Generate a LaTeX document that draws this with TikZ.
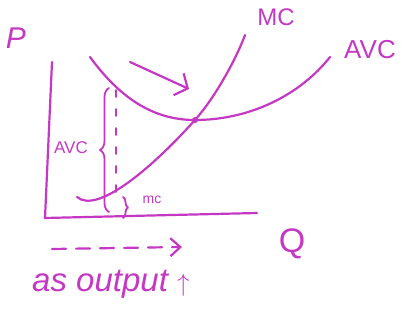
\documentclass[tikz,border=0pt]{standalone}
\usepackage{fontspec}
\setmainfont{Liberation Sans}
\usetikzlibrary{decorations.pathreplacing,arrows.meta}
\definecolor{ink}{RGB}{196,56,196}
\begin{document}
\begin{tikzpicture}[x=1pt,y=-1pt,
  pen/.style={draw=ink, line width=2.2pt, line cap=round, line join=round},
  lbl/.style={text=ink, inner sep=0pt},
  bracepen/.style={pen, line width=1.8pt, decorate, decoration={brace, amplitude=#1}}]
\useasboundingbox (0,0) rectangle (403,320);
% axes
\coordinate (ytop) at (52,62);
\coordinate (origin) at (45,218);
\coordinate (xend) at (257,213);
\draw[pen] (ytop) -- (origin) -- (xend);
% curve points
\coordinate (avcS) at (90,57);
\coordinate (avcMin) at (195,120);
\coordinate (avcE) at (330,57);
\coordinate (mcS) at (77,197);
\coordinate (mcE) at (245,35);
% AVC curve
\draw[pen] (avcS) .. controls (125,105) and (160,120) .. (avcMin)
  .. controls (250,120) and (300,95) .. (avcE);
% MC curve
\draw[pen] (mcS) .. controls (97,214) and (150,170) .. (avcMin)
  .. controls (213,100) and (235,62) .. (mcE);
\fill[ink] (avcMin) circle (3pt);
% labels
\node[lbl, font=\fontsize{30}{32}\selectfont\itshape] (P) at (16,38) {P};
\node[lbl, font=\fontsize{24}{26}\selectfont] (MC) at (276,17) {MC};
\node[lbl, font=\fontsize{26}{28}\selectfont] (AVCr) at (370,50) {AVC};
\node[lbl, font=\fontsize{34}{36}\selectfont] (Q) at (292,244) {Q};
% top arrow
\coordinate (arS) at (130,62);
\coordinate (arE) at (189,89);
\draw[pen, -{Straight Barb[length=10pt,width=24pt,line width=2.2pt]}] (arS) -- (arE);
% AVC brace and dashed line
\coordinate (bAb) at (109,212);
\coordinate (bAt) at (109,88);
\draw[bracepen=9pt] (bAb) -- (bAt);
\node[lbl, font=\fontsize{17}{19}\selectfont] (AVCl) at (71,148) {AVC};
\coordinate (dT) at (116,90);
\coordinate (dB) at (116,197);
\draw[pen, line width=1.6pt, dash pattern=on 7pt off 12pt] (dT) -- (dB);
% mc brace
\coordinate (bmT) at (123,197);
\coordinate (bmB) at (123,218);
\draw[bracepen=5pt] (bmT) -- (bmB);
\node[lbl, font=\fontsize{14}{16}\selectfont] (mc) at (152,200) {mc};
% dashed arrow
\coordinate (daS) at (52,249);
\coordinate (daE) at (182,247);
\draw[pen, dash pattern=on 14pt off 10pt, -{Straight Barb[length=10pt,width=18pt,line width=2.2pt]}] (daS) -- (daE);
% caption
\node[lbl, font=\fontsize{33}{35}\selectfont\itshape, anchor=west] (cap) at (32,284) {as output $\uparrow$};
\end{tikzpicture}
\end{document}
